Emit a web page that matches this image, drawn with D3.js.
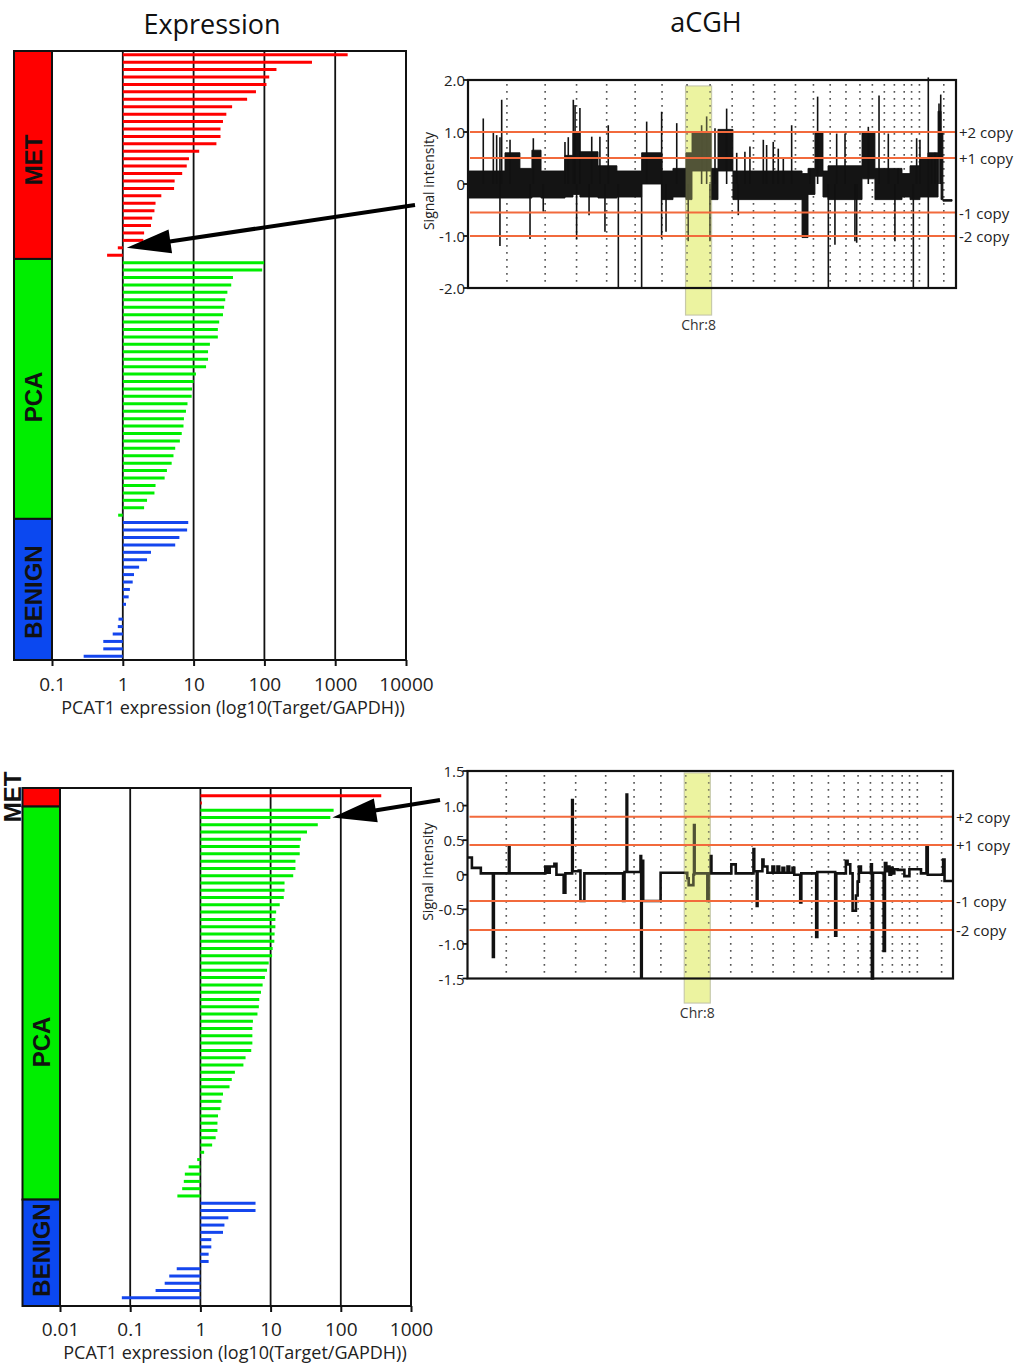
<!DOCTYPE html>
<html><head><meta charset="utf-8">
<script src="https://cdn.jsdelivr.net/npm/d3@7"></script>
<style>
body{margin:0;background:#fff;}
text{font-family:"Open Sans",sans-serif;fill:#111;}
</style>
</head><body>
<script>
// ---------------- DATA ----------------
// Expression (PCAT1, Target/GAPDH), top cohort
const topMet = [1500,470,148,117,107,76,57,35,29,26,24,24,21,12,8.6,8,6.9,5.4,5.3,3.5,2.9,2.8,2.6,2.5,2.0,1.95,0.85,0.6];
const topPca = [99,93,36,34,30,28,27,26,23,22,22,17,16,16,15,10.8,10,9.5,9.4,8.2,7.8,7.3,7.2,6.8,6.4,5.5,5.2,4.9,4.2,3.9,2.9,2.8,2.2,2.0,0.86];
const topBenign = [8.4,8.1,6.3,5.5,2.5,2.2,1.7,1.44,1.38,1.26,1.21,1.11,1.0,0.87,0.85,0.72,0.53,0.53,0.28];
// bottom cohort
const botMet = [377,1.05];
const botPca = [79,71,47,33,27,26,26,22.6,22.6,21,15.8,15.8,15.4,13.5,12,11.7,11.7,11.4,11.3,10.7,10.5,9.4,8.9,8.3,7.7,7.3,6.9,6.8,6.5,5.6,5.5,5.5,5.5,5.3,4.4,4.1,3.1,2.8,2.6,2.1,2.0,1.93,1.78,1.75,1.75,1.65,1.47,1.13,0.9,0.68,0.6,0.58,0.55,0.47];
const botBenign = [6.1,6.1,2.5,2.2,2.1,1.43,1.43,1.31,1.31,0.46,0.36,0.31,0.23,0.076];

const topTicks = [0.1,1,10,100,1000,10000];
const botTicks = [0.01,0.1,1,10,100,1000];
const groupNames = ["MET","PCA","BENIGN"];

// Chromosome lengths (Mb) chr1..22, X, Y
const chromLengths = [247.2,242.9,199.5,191.3,180.9,170.9,158.8,146.3,140.3,135.4,134.5,132.3,114.1,106.4,100.3,88.8,78.8,76.1,63.8,62.4,46.9,49.7,154.9,57.8];
const highlightChrom = 8;

// aCGH top sample: dense-signal band segments [startMb, endMb, low, high]
const topBand = [
 [0,235,-0.27,0.25],[235,330,-0.27,0.6],[330,406,-0.27,0.3],[406,464,-0.25,0.65],[464,616,-0.27,0.25],
 [616,667,-0.25,0.55],[667,711,-0.2,1.0],[711,826,-0.25,0.62],[826,946,-0.27,0.35],[946,1103,-0.25,0.25],
 [1103,1232,0.0,0.6],[1232,1302,-0.3,0.25],[1302,1385,-0.25,0.3],[1385,1423,-0.3,0.6],[1423,1544,0.25,1.0],
 [1544,1588,-0.3,0.3],[1588,1683,0.25,1.05],[1683,2122,-0.3,0.25],[2122,2160,-1.03,0.2],[2160,2204,-0.2,0.3],
 [2204,2255,0.15,1.0],[2255,2287,-0.25,0.25],[2287,2503,-0.3,0.35],[2503,2585,0.1,1.0],[2585,2757,-0.3,0.3],
 [2757,2808,-0.25,0.2],[2808,2871,-0.3,0.35],[2871,2922,-0.25,0.5],[2922,2986,-0.25,0.6],[2986,3005,0.5,1.4],
 [3005,3017,-0.3,1.0],[3017,3075,-0.33,-0.3]
];
// aCGH top sample: spikes [Mb, low, high]
const topSpikes = [
 [97,0,1.26],[161,0,1.0],[182,0,0.94],[203,-1.19,0.9],[214,0,1.62],[267,0,0.85],[394,-1.06,0],[415,0,0.88],
 [478,-0.53,0],[616,0,0.81],[637,0,0.9],[669,0,1.62],[680,0,1.52],[690,-1.06,0],[711,0,1.46],[769,-0.6,0],
 [786,0,0.91],[838,0,0.91],[870,-0.92,0],[891,0,1.13],[955,-2.0,0],[1103,-2.0,0],[1135,0,1.2],[1230,-1.04,1.39],
 [1258,-0.92,0],[1326,0,1.17],[1399,-1.1,0],[1484,0,1.13],[1516,0,1.3],[1537,-1.1,0],[1569,0,1.07],[1643,0,1.45],
 [1707,0,0.6],[1717,-0.6,0],[1759,0,0.62],[1791,0,0.72],[1876,0,0.85],[1897,0,0.75],[1939,0,0.81],[1971,0,0.68],
 [2003,0,0.5],[2056,0,1.13],[2172,0,0.3],[2221,0,1.68],[2289,-2.0,0],[2331,-1.17,0],[2342,0,0.97],[2395,0,0.97],
 [2458,-1.1,0],[2469,-1.13,0],[2543,0,1.1],[2611,0,1.7],[2670,0,0.97],[2712,-1.1,0],[2733,0,0.3],[2829,-2.0,0],
 [2850,0,0.88],[2871,0,0.85],[2924,-2.0,2.05],[2945,0,0.55],[2966,0,0.6],[2992,0,1.55],[3003,0,1.72]
];
// aCGH bottom sample: segmented step profile [startMb, value]
const botSteps = [
 [0,0.25],[28,0.1],[85,0.02],[162,-1.19],[168,0.02],[264,0.42],[268,0.02],[496,0.12],[511,0.03],[524,0.12],
 [554,0.16],[567,0.0],[613,-0.26],[624,0.02],[667,1.08],[671,0.05],[709,0.06],[720,-0.38],[745,0.02],
 [992,-0.38],[1001,0.04],[1014,1.16],[1018,0.04],[1103,0.27],[1107,-1.48],[1111,0.2],[1120,-0.38],[1231,0.03],
 [1401,-0.05],[1410,-0.15],[1440,0.0],[1444,0.72],[1448,0.02],[1529,-0.38],[1537,0.02],[1550,0.27],[1555,0.02],
 [1682,0.15],[1710,0.02],[1823,0.37],[1828,0.05],[1844,-0.45],[1849,0.05],[1880,0.22],[1887,0.12],[1912,0.03],
 [1944,0.12],[1955,0.03],[1976,0.12],[1987,0.03],[2008,0.1],[2019,0.03],[2040,0.12],[2051,0.03],[2072,0.1],
 [2083,0.0],[2121,-0.4],[2128,0.02],[2223,-0.9],[2230,0.04],[2344,-0.88],[2351,0.02],[2412,0.2],[2423,0.15],
 [2440,0.02],[2455,-0.52],[2476,-0.3],[2487,-0.1],[2495,0.12],[2508,0.03],[2572,0.15],[2578,-1.5],[2585,0.03],
 [2653,-1.1],[2661,0.17],[2670,0.05],[2679,0.12],[2690,0.0],[2700,0.1],[2710,0.02],[2721,0.08],[2742,0.07],
 [2785,-0.02],[2817,0.08],[2891,0.02],[2926,0.4],[2934,0.0],[3032,0.22],[3041,-0.09],[3095,-0.09]
];
const copyLabels = ["+2 copy","+1 copy","-1 copy","-2 copy"];
const topCopyLevels = [1.0,0.5,-0.55,-1.0];
const botCopyLevels = [0.84,0.43,-0.38,-0.80];
const topYTicks = [2,1,0,-1,-2];
const botYTicks = [1.5,1,0.5,0,-0.5,-1,-1.5];

// ---------------- DRAW ----------------
const svg = d3.select("body").append("svg").attr("width",1025).attr("height",1366);
const COLORS = {MET:{block:"#ff0000",bar:"#ff0000"},PCA:{block:"#00ee00",bar:"#00ee00"},BENIGN:{block:"#0b48f0",bar:"#1446ee"}};

function drawExpr(o){
  const g = svg.append("g");
  const rows = [];
  o.groups.forEach((vals,gi)=>vals.forEach(v=>rows.push({v,grp:groupNames[gi]})));
  const x = d3.scaleLog().domain(o.xDomain).range(o.xRange);
  const y = d3.scaleBand().domain(d3.range(rows.length)).range(o.yBand);
  const yc = i => y(i)+y.bandwidth()/2;
  g.selectAll(".grid").data(o.grid).join("line")
    .attr("x1",d=>x(d)).attr("x2",d=>x(d)).attr("y1",o.frameY[0]).attr("y2",o.frameY[1])
    .attr("stroke","#111").attr("stroke-width",1.8);
  g.selectAll(".bar").data(rows).join("line")
    .attr("x1",x(1)).attr("x2",d=>x(d.v)).attr("y1",(d,i)=>yc(i)).attr("y2",(d,i)=>yc(i))
    .attr("stroke",d=>COLORS[d.grp].bar).attr("stroke-width",3);
  let idx=0;
  o.groups.forEach((vals,gi)=>{
    const name=groupNames[gi];
    const y0 = gi===0 ? o.frameY[0] : y(idx);
    idx += vals.length;
    const y1 = idx===rows.length ? o.frameY[1] : y(idx);
    g.append("rect").attr("x",o.cbX[0]).attr("y",y0).attr("width",o.cbX[1]-o.cbX[0]).attr("height",y1-y0)
      .attr("fill",COLORS[name].block).attr("stroke","#111").attr("stroke-width",2);
    const lp = o.labelPos[gi];
    g.append("text").attr("transform",`translate(${lp[0]},${lp[1]}) rotate(-90)`)
      .attr("text-anchor","middle").attr("dominant-baseline","central")
      .style("font-family","'Liberation Sans',Arial,sans-serif").attr("font-weight","bold").attr("font-size",o.labelSize)
      .text(name);
  });
  g.append("rect").attr("x",o.xRange[0]).attr("y",o.frameY[0]).attr("width",o.xRange[1]-o.xRange[0])
    .attr("height",o.frameY[1]-o.frameY[0]).attr("fill","none").attr("stroke","#111").attr("stroke-width",2);
  g.append("line").attr("x1",o.cbX[0]).attr("x2",o.xRange[1]).attr("y1",o.frameY[1]).attr("y2",o.frameY[1])
    .attr("stroke","#111").attr("stroke-width",2);
  const ax = g.append("g").attr("transform",`translate(0,${o.frameY[1]})`)
    .call(d3.axisBottom(x).tickValues(o.ticks).tickFormat(d=>String(d)).tickSize(6).tickPadding(o.tickPad));
  ax.select(".domain").remove();
  ax.selectAll("line").attr("stroke","#111").attr("stroke-width",2);
  ax.selectAll("text").attr("font-size",19).style("fill","#222");
  g.append("text").attr("x",o.titleX).attr("y",o.titleY).attr("text-anchor","middle").attr("font-size",18)
    .style("fill","#222").text("PCAT1 expression (log10(Target/GAPDH))");
  return {x,y,yc};
}

function drawCGH(o){
  const g = svg.append("g");
  const cum = d3.cumsum(chromLengths);
  const x = d3.scaleLinear().domain([0,o.genomeEnd]).range(o.xRange);
  const y = d3.scaleLinear().domain(o.yDomain).range(o.yRange);
  const s = cum[highlightChrom-2], e = cum[highlightChrom-1];
  const hx = x(s)-1.5, hw = x(e)-x(s)+3;
  g.append("rect").attr("x",hx).attr("y",o.hl[0]).attr("width",hw).attr("height",o.hl[1]-o.hl[0])
    .attr("fill","#f0f6aa").attr("stroke","#c2c4ae").attr("stroke-width",1.2);
  g.append("text").attr("x",(x(s)+x(e))/2).attr("y",o.hl[1]+15).attr("text-anchor","middle").attr("font-size",14)
    .style("fill","#333").text("Chr:"+highlightChrom);
  g.selectAll(".chr").data(cum.slice(0,cum.length-1)).join("line")
    .attr("x1",d=>x(d)).attr("x2",d=>x(d)).attr("y1",o.yRange[1]+4).attr("y2",o.yRange[0])
    .attr("stroke","#555").attr("stroke-width",1.6).attr("stroke-dasharray","1.8,5.2");
  if(o.band){
    const pts = o.band.map(d=>({x:d[0],lo:d[2],hi:d[3]}));
    const last = o.band[o.band.length-1];
    pts.push({x:last[1],lo:last[2],hi:last[3]});
    g.append("path").datum(pts)
      .attr("d",d3.area().curve(d3.curveStepAfter).x(d=>x(d.x)).y0(d=>y(d.lo)).y1(d=>y(d.hi)))
      .attr("fill","#141414").attr("stroke","#111").attr("stroke-width",0.9);
    g.selectAll(".spk").data(o.spikes).join("line")
      .attr("x1",d=>x(d[0])).attr("x2",d=>x(d[0])).attr("y1",d=>y(d[1])).attr("y2",d=>y(d[2]))
      .attr("stroke","#111").attr("stroke-width",1.6);
  }
  if(o.steps){
    g.append("path").datum(o.steps)
      .attr("d",d3.line().curve(d3.curveStepAfter).x(d=>x(d[0])).y(d=>y(d[1])))
      .attr("fill","none").attr("stroke","#111").attr("stroke-width",2.6);
  }
  // translucent highlight overlay tints the trace inside the chromosome
  g.append("rect").attr("x",hx).attr("y",o.hl[0]).attr("width",hw).attr("height",o.hl[1]-o.hl[0])
    .attr("fill","#e4ec8c").attr("opacity",0.3);
  g.selectAll(".cn").data(o.levels).join("line")
    .attr("x1",o.xRange[0]+2).attr("x2",o.xRange[1]-1).attr("y1",d=>y(d)).attr("y2",d=>y(d))
    .attr("stroke","#f26a3c").attr("stroke-width",2);
  g.selectAll(".cnl").data(o.levels).join("text")
    .attr("x",o.xRange[1]+3).attr("y",d=>y(d)).attr("dominant-baseline","central").attr("font-size",15)
    .style("fill","#222").text((d,i)=>copyLabels[i]);
  g.append("rect").attr("x",o.xRange[0]).attr("y",o.yRange[1]).attr("width",o.xRange[1]-o.xRange[0])
    .attr("height",o.yRange[0]-o.yRange[1]).attr("fill","none").attr("stroke","#111").attr("stroke-width",2.2);
  g.selectAll(".yt").data(o.yTicks).join("line")
    .attr("x1",o.xRange[0]-5).attr("x2",o.xRange[0]).attr("y1",d=>y(d)).attr("y2",d=>y(d))
    .attr("stroke","#111").attr("stroke-width",1.8);
  g.selectAll(".ytl").data(o.yTicks).join("text")
    .attr("x",o.xRange[0]-3).attr("y",d=>y(d)).attr("text-anchor","end").attr("dominant-baseline","central")
    .attr("font-size",15).style("fill","#222").text(d=>d===0?"0":d.toFixed(1));
  g.append("text").attr("transform",`translate(${o.xRange[0]-40},${(o.yRange[0]+o.yRange[1])/2-3}) rotate(-90)`)
    .attr("text-anchor","middle").attr("dominant-baseline","central").attr("font-size",14)
    .style("fill","#222").text("Signal intensity");
  return {x,y};
}

function arrow(tail, tip){
  const dx = tip[0]-tail[0], dy = tip[1]-tail[1];
  const L = Math.hypot(dx,dy), ux = dx/L, uy = dy/L;
  const hl = 44, hw = 12;
  const bx = tip[0]-ux*hl, by = tip[1]-uy*hl;
  svg.append("line").attr("x1",tail[0]).attr("y1",tail[1]).attr("x2",bx+ux*4).attr("y2",by+uy*4)
    .attr("stroke","#000").attr("stroke-width",4);
  svg.append("path").attr("d",`M${tip[0]},${tip[1]}L${bx-uy*hw},${by+ux*hw}L${bx+uy*hw},${by-ux*hw}Z`)
    .attr("fill","#000");
}

svg.append("text").attr("x",212).attr("y",34).attr("text-anchor","middle").attr("font-size",27).text("Expression");
svg.append("text").attr("x",706).attr("y",32).attr("text-anchor","middle").attr("font-size",27).text("aCGH");

const e1 = drawExpr({groups:[topMet,topPca,topBenign], xDomain:[0.1,10000], xRange:[52,406], yBand:[51,660],
  frameY:[51,660], cbX:[14,52], grid:[1,10,100,1000], ticks:topTicks, tickPad:12,
  labelPos:[[33,160],[33,397],[33,592]], labelSize:24, titleX:233, titleY:714});
const e2 = drawExpr({groups:[botMet,botPca,botBenign], xDomain:[0.01,1000], xRange:[60,411], yBand:[792,1301.5],
  frameY:[788,1306], cbX:[22.5,60], grid:[0.1,1,10,100], ticks:botTicks, tickPad:11,
  labelPos:[[12,797],[41,1042],[41,1250]], labelSize:24, titleX:235, titleY:1359});

drawCGH({xRange:[468,956], genomeEnd:3100, yDomain:[-2,2], yRange:[288,80], hl:[86,315],
  band:topBand, spikes:topSpikes, levels:topCopyLevels, yTicks:topYTicks});
drawCGH({xRange:[467.5,953], genomeEnd:3095, yDomain:[-1.5,1.5], yRange:[978.5,771], hl:[773,1003],
  steps:botSteps, levels:botCopyLevels, yTicks:botYTicks});

arrow([415,205],[e1.x(1)+4, e1.yc(26)]);
arrow([440,800],[e2.x(botPca[1])+2, e2.yc(botMet.length+1)]);
</script>
</body></html>
